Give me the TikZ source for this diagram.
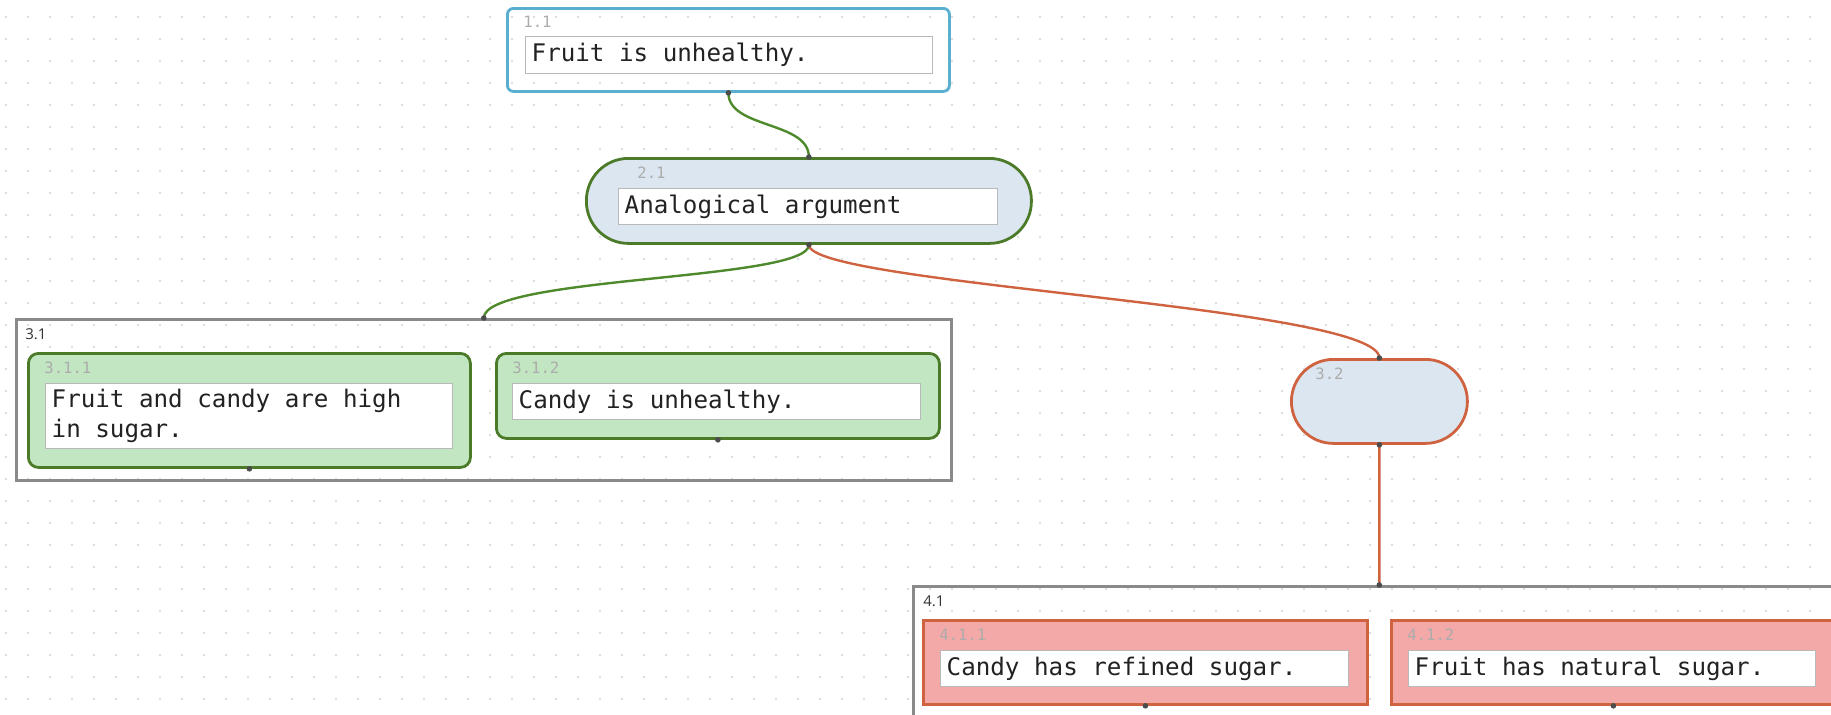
\documentclass[tikz,border=0pt]{standalone}
\usepackage{fontspec}
\newfontfamily\monofont{DejaVu Sans Mono}
\newfontfamily\labfont{Open Sans}
\newcommand\boxtextfont{\monofont\fontsize{12.1}{15}\selectfont}
\newcommand\fixmonospace{\frenchspacing\spaceskip=0.602em\relax\xspaceskip=0.602em\relax}
\definecolor{bluebd}{HTML}{5AAED0}
\definecolor{greenbd}{HTML}{4B7A28}
\definecolor{greenln}{HTML}{4E8A2C}
\definecolor{greenfill}{HTML}{C1E6C1}
\definecolor{redbd}{HTML}{CF6340}
\definecolor{redfill}{HTML}{F4A9A9}
\definecolor{bluefill}{HTML}{DCE6F1}
\definecolor{groupbd}{HTML}{8A8A8A}
\definecolor{txt}{HTML}{222222}
\tikzset{
  outerbox/.style={shape=rectangle, anchor=north west, inner sep=0pt, line width=1.4pt},
  claimbox/.style={outerbox, draw=bluebd, rounded corners=3pt},
  greenbox/.style={outerbox, draw=greenbd, fill=greenfill, rounded corners=5pt},
  redbox/.style={outerbox, draw=redbd, fill=redfill},
  stadgreen/.style={outerbox, draw=greenbd, fill=bluefill},
  stadred/.style={outerbox, draw=redbd, fill=bluefill},
  groupbox/.style={outerbox, draw=groupbd, line width=1.3pt},
  idlabel/.style={anchor=west, inner sep=0pt, text=gray!65, font=\monofont\fontsize{7.8}{9}\selectfont},
  grplabel/.style={anchor=west, inner sep=0pt, text=black!80, font=\labfont\fontsize{7.5}{9}\selectfont},
  textbox/.style={shape=rectangle, anchor=north west, draw=gray!55, fill=white, line width=0.7pt,
    inner xsep=3pt, inner ysep=0pt, align=left, text=txt, font=\boxtextfont,
    execute at begin node=\fixmonospace},
  greenline/.style={draw=greenln, line width=1.2pt},
  redline/.style={draw=redbd, line width=1.2pt},
  port/.style={fill=black!70},
}
\begin{document}
\begin{tikzpicture}[x=0.5pt,y=-0.5pt]
\useasboundingbox (0,0) rectangle (1831,714);
\clip (0,0) rectangle (1831,714);
% dotted background grid
\foreach \i in {0,...,83}{\foreach \j in {0,...,32}{\fill[gray!35] (6+22*\i,17+22*\j) circle (0.6pt);}}

% 1.1
\node[claimbox, minimum width=221pt, minimum height=41.5pt] (n11) at (506,7) {};
\node[idlabel] (l11) at (523,22) {1.1};
\node[textbox, text width=197.5pt, minimum height=18.5pt] (t11) at (525,36) {Fruit is unhealthy.};

% 2.1
\node[stadgreen, rounded corners=21pt, minimum width=222.5pt, minimum height=42.5pt] (n21) at (585,157) {};
\node[idlabel] (l21) at (637,173) {2.1};
\node[textbox, text width=183.5pt, minimum height=18pt] (t21) at (618,188) {Analogical argument};

% 3.1 group
\node[groupbox, minimum width=467.5pt, minimum height=80.5pt] (g31) at (15,318) {};
\node[grplabel] (lg31) at (25,334) {3.1};
\node[greenbox, minimum width=221pt, minimum height=57pt] (n311) at (27,352) {};
\node[idlabel] (l311) at (44,368) {3.1.1};
\node[textbox, text width=197.5pt, minimum height=32.5pt] (t311) at (45,383) {Fruit and candy are high\\in sugar.};
\node[greenbox, minimum width=221.5pt, minimum height=42.5pt] (n312) at (495,352) {};
\node[idlabel] (l312) at (512,368) {3.1.2};
\node[textbox, text width=198pt, minimum height=18pt] (t312) at (512,383) {Candy is unhealthy.};

% 3.2
\node[stadred, rounded corners=21pt, minimum width=88pt, minimum height=42pt] (n32) at (1290,358) {};
\node[idlabel] (l32) at (1315,374) {3.2};

% 4.1 group
\node[groupbox, minimum width=466pt, minimum height=100pt] (g41) at (912,585) {};
\node[grplabel] (lg41) at (923,601) {4.1};
\node[redbox, minimum width=222pt, minimum height=42pt] (n411) at (922,619) {};
\node[idlabel] (l411) at (939,635) {4.1.1};
\node[textbox, text width=198pt, minimum height=18pt] (t411) at (940,650) {Candy has refined sugar.};
\node[redbox, minimum width=222pt, minimum height=42pt] (n412) at (1390,619) {};
\node[idlabel] (l412) at (1407,635) {4.1.2};
\node[textbox, text width=197.5pt, minimum height=18pt] (t412) at (1408,650) {Fruit has natural sugar.};

% connectors
\draw[greenline] (n11.south) .. controls +(0,36) and +(0,-36) .. (n21.north);
\draw[greenline] (n21.south) .. controls +(0,36) and +(0,-42) .. (g31.north);
\draw[redline] (n21.south) .. controls +(0,40) and +(0,-52) .. (n32.north);
\draw[redline] (n32.south) -- (g41.north);

% ports
\foreach \p in {n11.south,n21.north,n21.south,g31.north,n311.south,n312.south,n32.north,n32.south,g41.north,n411.south,n412.south}{
  \fill[port] (\p) circle (1.4pt);
}
\end{tikzpicture}
\end{document}
